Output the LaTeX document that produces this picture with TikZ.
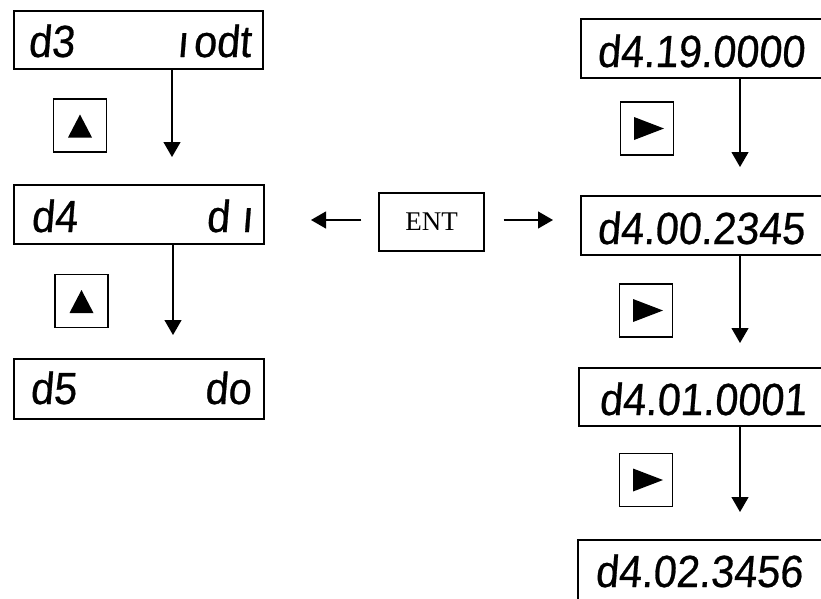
\documentclass[tikz,border=0pt]{standalone}
\usepackage{fontspec}
\newfontfamily\lcd[FakeSlant=0.08,FakeStretch=0.92,FakeBold=0.6]{Liberation Sans}
\newfontfamily\entfont{Liberation Serif}
\usetikzlibrary{arrows.meta,calc}
\begin{document}
\begin{tikzpicture}[x=1pt,y=-1pt,
  lcdbox/.style={draw, line width=1.6pt, inner sep=0pt, anchor=north west, minimum height=58pt},
  lcdtext/.style={inner sep=0pt, font=\lcd\fontsize{45}{45}\selectfont},
  btn/.style={draw, line width=1.3pt, minimum size=53pt, inner sep=0pt},
  conn/.style={line width=1.2pt, -{Triangle[width=17pt,length=15pt]}}]
\useasboundingbox (0,0) rectangle (821,598);
\clip (0,0) rectangle (821,598);
% left column
\node[lcdbox, minimum width=249pt] (d3) at (13,10) {};
\node[lcdbox, minimum width=250pt, minimum height=59pt] (d4) at (13,184) {};
\node[lcdbox, minimum width=250pt, minimum height=60pt] (d5) at (13,358) {};
\node[lcdtext, anchor=base west] (d3a) at (28,57) {d3};
\node[lcdtext, anchor=base east] (d3b) at (251,57) {ı\kern5pt odt};
\node[lcdtext, anchor=base west] (d4a) at (31,232) {d4};
\node[lcdtext, anchor=base east] (d4b) at (253,232) {d\kern12pt ı};
\node[lcdtext, anchor=base west] (d5a) at (30,404) {d5};
\node[lcdtext, anchor=base east] (d5b) at (251,404) {do};
\node[btn] (L1) at (80,125.5) {};
\node[btn] (L2) at (81.5,301) {};
\fill ($(L1)+(-12,12)$) -- ($(L1)+(12,12)$) -- ($(L1)+(0,-11)$) -- cycle;
\fill ($(L2)+(-12,12)$) -- ($(L2)+(12,12)$) -- ($(L2)+(0,-11)$) -- cycle;
\coordinate (a1) at (172,157);
\coordinate (a2) at (173,335);
\draw[conn] (d3.south -| a1) -- (a1);
\draw[conn] (d4.south -| a2) -- (a2);
% ENT
\node[draw, line width=1.3pt, minimum width=105pt, minimum height=58pt, inner sep=0pt,
  font=\entfont\fontsize{27}{27}\selectfont] (ENT) at (431.5,222) {ENT};
\coordinate (hl) at (311,220);
\coordinate (hr) at (553,220);
\draw[conn] ([xshift=-17pt]ENT.west |- hl) -- (hl);
\draw[conn] ([xshift=19pt]ENT.east |- hr) -- (hr);
% right column
\node[lcdbox, minimum width=260pt, minimum height=59pt] (r1) at (580,18) {};
\node[lcdbox, minimum width=260pt, minimum height=59pt] (r2) at (580,195) {};
\node[lcdbox, minimum width=262pt, minimum height=58pt] (r3) at (578,367) {};
\node[lcdbox, minimum width=263pt, minimum height=80pt] (r4) at (577,539) {};
\node[lcdtext, anchor=base west] (r1t) at (597,67) {d4.19.0000};
\node[lcdtext, anchor=base west] (r2t) at (597,244) {d4.00.2345};
\node[lcdtext, anchor=base west] (r3t) at (599,415) {d4.01.0001};
\node[lcdtext, anchor=base west] (r4t) at (595,587) {d4.02.3456};
\node[btn] (B1) at (647,128.5) {};
\node[btn] (B2) at (646,310.5) {};
\node[btn] (B3) at (646,480) {};
\fill ($(B1)+(-13,-11.5)$) -- ($(B1)+(17,0)$) -- ($(B1)+(-13,11.5)$) -- cycle;
\fill ($(B2)+(-13,-11.5)$) -- ($(B2)+(17,0)$) -- ($(B2)+(-13,11.5)$) -- cycle;
\fill ($(B3)+(-13,-11.5)$) -- ($(B3)+(17,0)$) -- ($(B3)+(-13,11.5)$) -- cycle;
\coordinate (a3) at (740,167);
\coordinate (a4) at (740,343);
\coordinate (a5) at (740,512);
\draw[conn] (r1.south -| a3) -- (a3);
\draw[conn] (r2.south -| a4) -- (a4);
\draw[conn] (r3.south -| a5) -- (a5);
\end{tikzpicture}
\end{document}
